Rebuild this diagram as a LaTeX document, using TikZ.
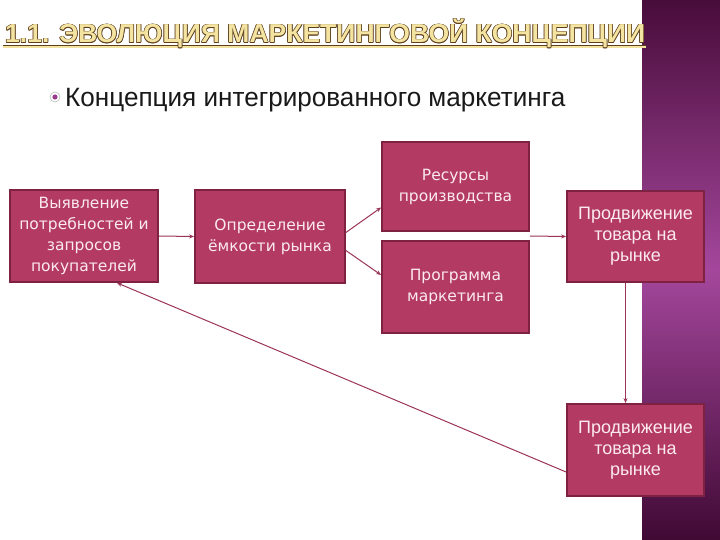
\documentclass[tikz,border=0pt]{standalone}
\usepackage{fontspec}
\setmainfont{Liberation Sans}
\newfontfamily\boxfont{DejaVu Sans}
\usetikzlibrary{arrows.meta,calc}
\definecolor{boxfill}{HTML}{B33A63}
\definecolor{boxedge}{HTML}{7E2143}
\definecolor{boxtext}{HTML}{FBEAF0}
\definecolor{linec}{HTML}{9B3457}
\definecolor{bandtop}{HTML}{480C3A}
\definecolor{bandmid}{HTML}{A4479C}
\definecolor{bandbot}{HTML}{400934}
\definecolor{titlefill}{HTML}{F4E4A2}
\definecolor{titleedge}{HTML}{5E3F1C}
\definecolor{bulletc}{HTML}{9A3A8A}
\newcommand{\mytitle}{\resizebox{640pt}{\height}{\fontsize{26}{30}\selectfont\bfseries 1.1. ЭВОЛЮЦИЯ МАРКЕТИНГОВОЙ КОНЦЕПЦИИ}}
\begin{document}
\begin{tikzpicture}[x=1pt,y=-1pt,
  box/.style={draw=boxedge, line width=1.8pt, fill=boxfill, text=boxtext, align=center, inner sep=0pt, font=\boxfont\fontsize{15.5}{21}\selectfont},
  bigbox/.style={box, font=\rmfamily\fontsize{18}{21}\selectfont},
  conn/.style={draw=linec, line width=1pt, -{Stealth[length=5pt,width=4pt]}}]
\useasboundingbox (0,0) rectangle (720,540);
\fill[white] (0,0) rectangle (720,540);
\shade[top color=bandtop, bottom color=bandbot, middle color=bandmid] (642,0) rectangle (720,540);

% title
\draw[titleedge, line width=3pt] (3,47) -- (646,47);
\draw[titlefill, line width=1.4pt] (3,47) -- (646,47);
\foreach \dx/\dy [count=\i] in {-0.7/0,0.7/0,0/-0.7,0/0.7,-0.5/-0.5,0.5/0.5,-0.5/0.5,0.5/-0.5}
  \node[anchor=base west, inner sep=0pt, text=titleedge] (tshadow\i) at (5+\dx,43+\dy) {\mytitle};
\node[anchor=base west, inner sep=0pt, text=titlefill] (title) at (5,43) {\mytitle};

% bullet
\draw[line width=0.8pt, draw=gray!45, fill=white] (55,97) circle (5);
\fill[bulletc] (55,97) circle (2.6);
\node[anchor=base west, inner sep=0pt, text=black!90] (bt) at (65,107)
  {\resizebox{500pt}{\height}{\fontsize{26.5}{30}\selectfont Концепция интегрированного маркетинга}};

% boxes
\node[box, minimum width=148pt, minimum height=92pt] (b1) at (84,236)
  {Выявление\\потребностей и\\запросов\\покупателей};
\node[box, minimum width=150pt, minimum height=93pt] (b2) at (270,236.5)
  {Определение\\ёмкости рынка};
\node[box, minimum width=147pt, minimum height=89pt] (b3) at (455.5,186.5)
  {Ресурсы\\производства};
\node[box, minimum width=147pt, minimum height=92pt] (b4) at (455.5,287)
  {Программа\\маркетинга};
\node[bigbox, minimum width=137pt, minimum height=91pt] (b5) at (635.5,236.5)
  {Продвижение\\товара на\\рынке};
\node[bigbox, minimum width=137pt, minimum height=92pt] (b6) at (635.5,450)
  {Продвижение\\товара на\\рынке};

% connectors
\draw[conn] (b1.east) -- (b2.west);
\draw[conn] ($(b2.east)+(0,-4)$) -- ($(b3.west)+(0,21)$);
\draw[conn] ($(b2.east)+(0,14)$) -- ($(b4.west)+(0,-12)$);
\coordinate (mid) at ($(b3.south east)!0.5!(b4.north east)$);
\draw[conn] (mid) -- (b5.west);
\draw[conn] ($(b5.south)+(-10,0)$) -- ($(b6.north)+(-10,0)$);
\draw[conn] ($(b6.west)+(0,22)$) -- ($(b1.south)+(33,0)$);
\end{tikzpicture}
\end{document}
